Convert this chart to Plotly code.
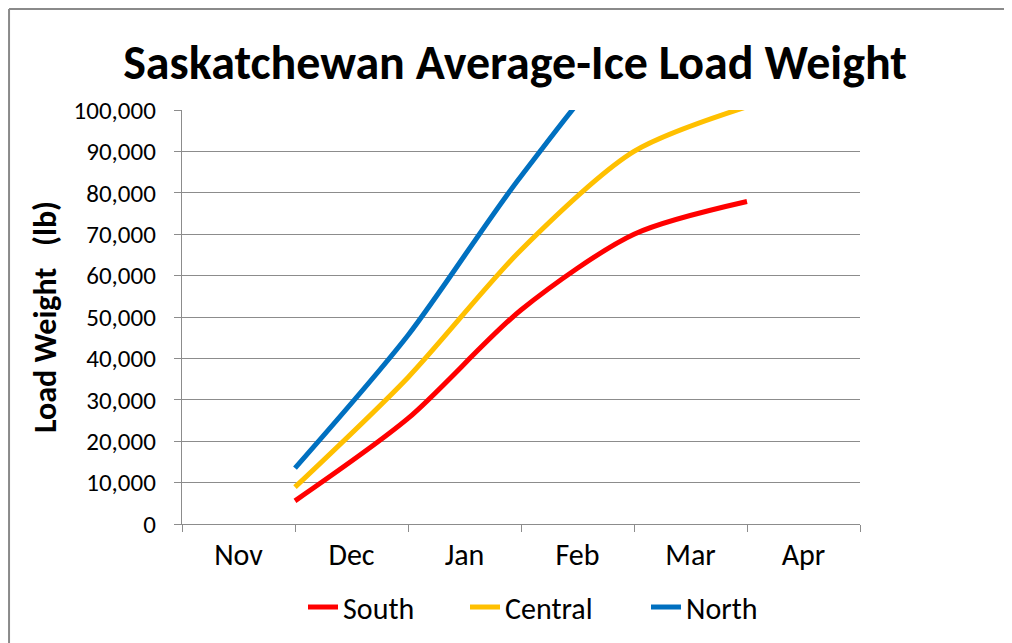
import plotly.graph_objects as go

months = ["Nov", "Dec", "Jan", "Feb", "Mar", "Apr"]
# data points at month starts (Dec 1 .. Apr 1), measured as month index from Nov 1
point_month = [1, 2, 3, 4, 5]
south = [5600, 25500, 51700, 70000, 77900]
central = [8900, 35400, 66200, 90000, 100800]
north = [13500, 45600, 84000, 116000, 128000]

series = [("South", south, "#FF0000", "legend"),
          ("Central", central, "#FFC000", "legend2"),
          ("North", north, "#0070C0", "legend3")]

FONT = "Calibri, Carlito, Lato, sans-serif"
GRID = "#8c8c8c"

fig = go.Figure()
for name, vals, col, lg in series:
    fig.add_trace(go.Scatter(x=point_month, y=vals, name=name, mode="lines", legend=lg,
                             line=dict(color=col, width=5, shape="spline", smoothing=0.8)))

# invisible trace on overlay axis to carry month labels
fig.add_trace(go.Scatter(x=[0, 6], y=[0, 0], xaxis="x2", mode="lines",
                         line=dict(width=0), showlegend=False, hoverinfo="skip"))

leg_common = dict(orientation="h", xanchor="left", y=-0.2005, yanchor="middle",
                  font=dict(size=30), bgcolor="rgba(0,0,0,0)")

fig.update_layout(
    width=1012, height=643,
    margin=dict(l=174, r=160, t=102, b=127),
    paper_bgcolor="white", plot_bgcolor="white",
    font=dict(family=FONT, color="black", size=24),
    title=dict(text="<b>Saskatchewan Average-Ice Load Weight</b>", x=0.501, xanchor="center",
               y=0.916, yanchor="middle", font=dict(size=48, family=FONT)),
    xaxis=dict(range=[0, 6], tickvals=list(range(7)), ticktext=[""] * 7,
               ticks="outside", ticklen=7, tickcolor=GRID, tickwidth=1.3,
               showline=True, linecolor=GRID, linewidth=1.3, showgrid=False, zeroline=False,
               fixedrange=True),
    xaxis2=dict(range=[0, 6], overlaying="x", side="bottom",
                tickvals=[i + 0.5 for i in range(len(months))], ticktext=months,
                ticks="", showline=False, showgrid=False, zeroline=False,
                tickfont=dict(size=30), ticklabelstandoff=10),
    yaxis=dict(range=[0, 100000], dtick=10000, tickformat=",", ticks="outside", ticklen=7,
               tickcolor=GRID, tickwidth=1.3, showline=True, linecolor=GRID, linewidth=1.3,
               showgrid=True, gridcolor=GRID, gridwidth=1.3, zeroline=False,
               tickfont=dict(size=25), ticklabelstandoff=13,
               title=dict(text="<b>Load Weight   (lb)</b>", font=dict(size=32), standoff=7)),
    legend=dict(x=0.1785, **leg_common),
    legend2=dict(x=0.4174, **leg_common),
    legend3=dict(x=0.6844, **leg_common),
    showlegend=True,
)

# outer chart border (cropped on right and bottom)
fig.add_shape(type="line", xref="paper", yref="paper", x0=-0.2551, x1=-0.2551, y0=1.2440, y1=-0.35,
              line=dict(color="#8a8a8a", width=2))
fig.add_shape(type="line", xref="paper", yref="paper", x0=-0.2551, x1=1.25, y0=1.2440, y1=1.2440,
              line=dict(color="#8a8a8a", width=2))

fig.write_html("out.html")
